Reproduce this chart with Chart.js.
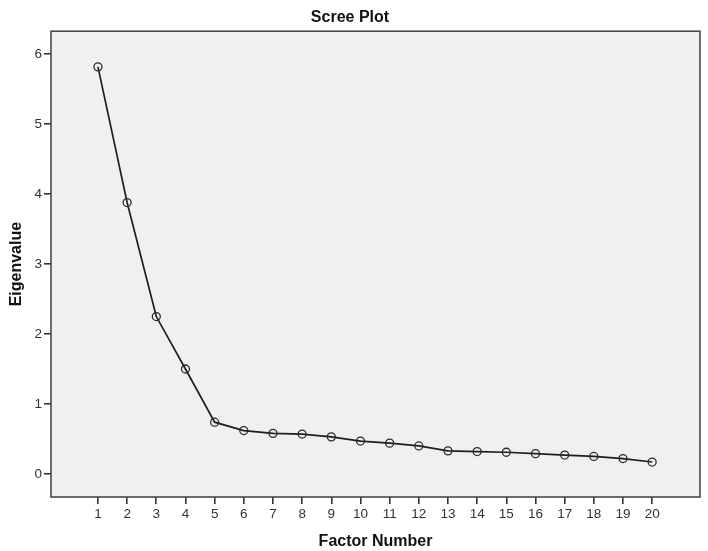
<!DOCTYPE html>
<html>
<head>
<meta charset="utf-8">
<script src="https://cdn.jsdelivr.net/npm/chart.js@4/dist/chart.umd.min.js"></script>
<style>
  html, body { margin: 0; padding: 0; background: #ffffff; }
  #wrap { width: 708px; height: 551px; }
</style>
</head>
<body>
<div id="wrap"><canvas id="c" width="708" height="551"></canvas></div>
<script>
const factorNumbers = [1, 2, 3, 4, 5, 6, 7, 8, 9, 10, 11, 12, 13, 14, 15, 16, 17, 18, 19, 20];
const eigenvalues = [5.82, 3.88, 2.25, 1.50, 0.74, 0.62, 0.58, 0.57, 0.53, 0.47, 0.44, 0.40, 0.33, 0.32, 0.31, 0.29, 0.27, 0.25, 0.22, 0.17];
const yTickValues = [0, 1, 2, 3, 4, 5, 6];

const FONT = "'Liberation Sans', Arial, sans-serif";

const framePlugin = {
  id: 'frame',
  beforeDatasetsDraw(chart) {
    const { ctx, chartArea: a } = chart;
    ctx.save();
    ctx.fillStyle = '#f0f0f0';
    ctx.fillRect(a.left, a.top, a.right - a.left, a.bottom - a.top);
    ctx.restore();
  },
  afterDraw(chart) {
    const { ctx, chartArea: a } = chart;
    ctx.save();
    ctx.strokeStyle = '#4a4a4a';
    ctx.lineWidth = 1.6;
    ctx.strokeRect(a.left, a.top, a.right - a.left, a.bottom - a.top);
    ctx.restore();
  }
};

new Chart(document.getElementById('c'), {
  type: 'line',
  data: {
    datasets: [{
      data: factorNumbers.map((f, i) => ({ x: f, y: eigenvalues[i] })),
      borderColor: '#1e1e1e',
      borderWidth: 1.7,
      pointRadius: 4,
      pointBorderWidth: 1.3,
      pointBorderColor: '#2a2a2a',
      pointBackgroundColor: 'rgba(0,0,0,0)',
      tension: 0,
      fill: false
    }]
  },
  options: {
    responsive: false,
    animation: false,
    layout: { padding: { left: 0, right: 8, top: 0, bottom: 0 } },
    plugins: {
      legend: { display: false },
      tooltip: { enabled: false },
      title: {
        display: true,
        text: 'Scree Plot',
        color: '#111111',
        font: { family: FONT, size: 16, weight: 'bold' },
        padding: { top: 8, bottom: 4 }
      }
    },
    scales: {
      x: {
        type: 'linear',
        min: -0.61,
        max: 21.64,
        afterBuildTicks(scale) { scale.ticks = factorNumbers.map(v => ({ value: v })); },
        afterFit(scale) { scale.height = 54; },
        ticks: {
          color: '#333333',
          font: { family: FONT, size: 13.5 },
          padding: 2,
          maxRotation: 0,
          autoSkip: false,
          callback: v => String(v)
        },
        grid: { drawOnChartArea: false, drawTicks: true, tickLength: 7, color: '#333333', lineWidth: 1.6 },
        border: { display: false },
        title: {
          display: true,
          text: 'Factor Number',
          color: '#111111',
          font: { family: FONT, size: 16, weight: 'bold' },
          padding: { top: 0, bottom: 0 }
        }
      },
      y: {
        type: 'linear',
        min: -0.33,
        max: 6.33,
        afterBuildTicks(scale) { scale.ticks = yTickValues.map(v => ({ value: v })); },
        afterFit(scale) { scale.width = 51; },
        ticks: {
          color: '#333333',
          font: { family: FONT, size: 13.5 },
          padding: 2,
          callback: v => String(v)
        },
        grid: { drawOnChartArea: false, drawTicks: true, tickLength: 7, color: '#333333', lineWidth: 1.6 },
        border: { display: false },
        title: {
          display: true,
          text: 'Eigenvalue',
          color: '#111111',
          font: { family: FONT, size: 16, weight: 'bold' },
          padding: { top: 7, bottom: 0 }
        }
      }
    }
  },
  plugins: [framePlugin]
});
</script>
</body>
</html>
